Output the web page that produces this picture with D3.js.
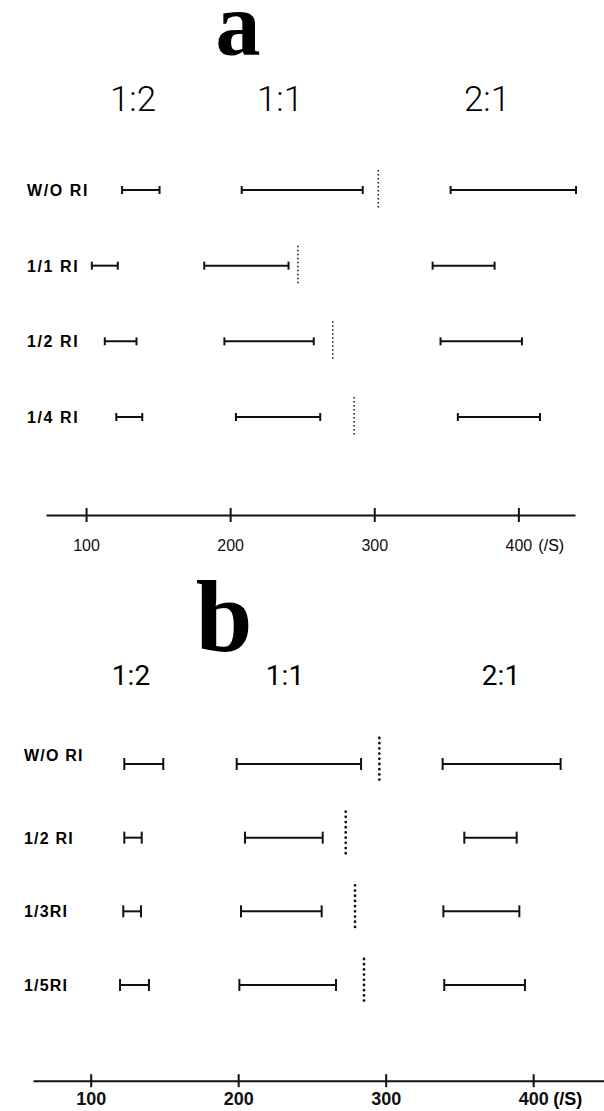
<!DOCTYPE html>
<html>
<head>
    <title>Interval chart a / b</title>
    <script src="https://d3js.org/d3.v7.min.js"></script>
    <style>
        body { margin: 0; background: #fff; }
    </style>
</head>
<body>
    <svg width="604" height="1111"></svg>

    <script>
        // Panel a: rows, intervals per ratio [low, high] (/s) and dotted marker value
        var rowsA = ["W/O RI", "1/1 RI", "1/2 RI", "1/4 RI"];
        var a12 = [[125, 151], [104, 122], [113, 135], [121, 139]];
        var a11 = [[208, 292], [182, 240.5], [196, 258], [204, 262.5]];
        var a21 = [[353, 440], [340.5, 383.5], [346, 402.5], [358, 415]];
        var aMark = [302.8, 247, 271.2, 286];

        // Panel b
        var rowsB = ["W/O RI", "1/2 RI", "1/3RI", "1/5RI"];
        var b12 = [[122.8, 149.2], [122.8, 134.6], [122.1, 134.1], [119.9, 139.5]];
        var b11 = [[199, 283.3], [204.6, 257.3], [201.9, 256.6], [200.8, 266.3]];
        var b21 = [[338.6, 418.6], [353.3, 388.8], [339.1, 390.6], [339.7, 394.4]];
        var bMark = [295.7, 272.9, 279.2, 285.3];

        var ratios = ["1:2", "1:1", "2:1"];
        var tickValues = [100, 200, 300, 400];
        var unitLabel = "(/S)";

        var svg = d3.select("svg");

        function drawPanel(p) {
            var g = svg.append("g");

            // x scale runs over the full axis line
            var x = d3.scaleLinear().domain(p.domain).range(p.range);
            var y = d3.scalePoint().domain(p.rows).range(p.rowRange);

            // big panel letter
            g.append("text")
                .attr("x", p.letterX).attr("y", p.letterY)
                .attr("text-anchor", "middle")
                .style("font-family", "'Liberation Serif', serif")
                .style("font-weight", "bold")
                .style("font-size", p.letterSize + "px")
                .text(p.letter);

            // ratio headers
            g.selectAll(".hdr").data(ratios).enter().append("text")
                .attr("x", function(d, i) { return p.headerX[i]; })
                .attr("y", p.headerY)
                .attr("text-anchor", "middle")
                .style("font-family", "Roboto, 'DejaVu Sans', sans-serif")
                .style("font-weight", p.headerWeight)
                .style("font-size", p.headerSize + "px")
                .text(function(d) { return d; });

            // row labels
            g.selectAll(".rl").data(p.rows).enter().append("text")
                .attr("x", p.labelX)
                .attr("y", function(d, i) { return y(d) + 6 + (i === 0 ? p.firstLabelDy : 0); })
                .style("font-family", "'Liberation Sans', Arial, sans-serif")
                .style("font-weight", "bold")
                .style("font-size", p.labelSize + "px")
                .style("letter-spacing", p.labelSpacing + "px")
                .text(function(d) { return d; });

            // interval bars with end caps
            [p.s12, p.s11, p.s21].forEach(function(series) {
                var bars = g.append("g").selectAll("g").data(series).enter().append("g")
                    .attr("transform", function(d, i) { return "translate(0," + y(p.rows[i]) + ")"; });
                bars.append("line")
                    .attr("x1", function(d) { return x(d[0]); })
                    .attr("x2", function(d) { return x(d[1]); })
                    .attr("stroke", "#111").attr("stroke-width", 2);
                bars.selectAll(".cap").data(function(d) { return d; }).enter().append("line")
                    .attr("x1", function(v) { return x(v); })
                    .attr("x2", function(v) { return x(v); })
                    .attr("y1", -p.capH / 2).attr("y2", p.capH / 2)
                    .attr("stroke", "#111").attr("stroke-width", 2);
            });

            // dotted markers
            g.selectAll(".mk").data(p.marks).enter().append("line")
                .attr("x1", function(d) { return x(d); })
                .attr("x2", function(d) { return x(d); })
                .attr("y1", function(d, i) { return y(p.rows[i]) - p.markUp; })
                .attr("y2", function(d, i) { return y(p.rows[i]) + p.markDown; })
                .attr("stroke", "#111")
                .attr("stroke-width", p.dotW)
                .attr("stroke-linecap", p.dotCap)
                .attr("stroke-dasharray", p.dotDash);

            // axis
            var axis = g.append("g")
                .attr("transform", "translate(0," + p.axisY + ")")
                .call(d3.axisBottom(x).tickValues(tickValues).tickSizeOuter(0).tickSize(0).tickPadding(p.tickPad));
            axis.select(".domain").attr("stroke", "#111").attr("stroke-width", 2);
            axis.selectAll(".tick line").attr("y1", -p.tickH).attr("y2", p.tickH)
                .attr("stroke", "#111").attr("stroke-width", 2);
            axis.selectAll(".tick text")
                .attr("dy", null)
                .attr("y", p.tickBase)
                .style("font-family", "'Liberation Sans', Arial, sans-serif")
                .style("font-weight", p.tickWeight)
                .style("font-size", p.tickSize + "px")
                .attr("fill", "#111");
            g.append("text")
                .attr("x", x(400) + p.unitDx)
                .attr("y", p.axisY + p.tickBase)
                .style("font-family", "'Liberation Sans', Arial, sans-serif")
                .style("font-weight", p.tickWeight)
                .style("font-size", p.tickSize + "px")
                .text(unitLabel);
        }

        drawPanel({
            letter: "a", letterX: 238, letterY: 55, letterSize: 90,
            headerX: [133, 280, 487], headerY: 111, headerSize: 35, headerWeight: 300,
            rows: rowsA, rowRange: [190, 417], labelX: 27, labelSize: 16, labelSpacing: 1.6, firstLabelDy: 0,
            s12: a12, s11: a11, s21: a21, marks: aMark,
            domain: [72.2, 439.3], range: [46, 575],
            capH: 8, markUp: 20, markDown: 20,
            dotW: 1.5, dotCap: "butt", dotDash: "1.5,2.5",
            axisY: 515, tickH: 7, tickBase: 36, tickSize: 16, tickWeight: "normal",
            unitDx: 20
        });

        drawPanel({
            letter: "b", letterX: 224, letterY: 651, letterSize: 102,
            headerX: [131, 285, 501], headerY: 685, headerSize: 28, headerWeight: 400,
            rows: rowsB, rowRange: [764, 985], labelX: 24, labelSize: 16, labelSpacing: 1.2, firstLabelDy: -9,
            s12: b12, s11: b11, s21: b21, marks: bMark,
            domain: [60.9, 448], range: [33, 604],
            capH: 12, markUp: 26, markDown: 20,
            dotW: 2.8, dotCap: "round", dotDash: "0,5.2",
            axisY: 1080.7, tickH: 6.5, tickBase: 24, tickSize: 18, tickWeight: "bold",
            unitDx: 20
        });
    </script>
</body>
</html>
